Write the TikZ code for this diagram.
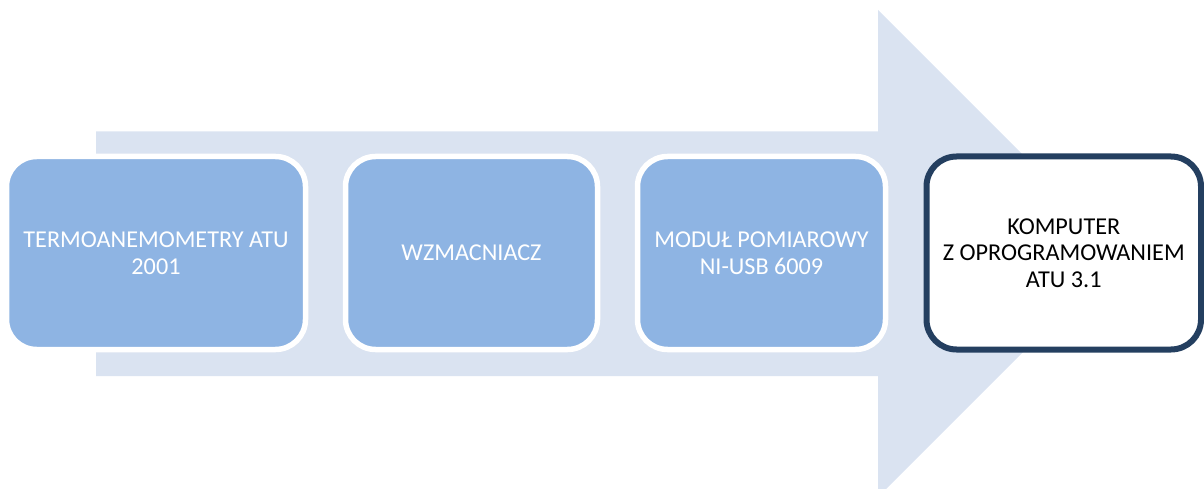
\documentclass[tikz,border=0pt]{standalone}
\usepackage{fontspec}
\setmainfont{Carlito}
\definecolor{shaftcol}{HTML}{DAE3F1}
\definecolor{boxfill}{HTML}{8EB4E3}
\definecolor{darkedge}{HTML}{243F60}
\tikzset{
  bluebox/.style={draw=white, line width=5.5pt, fill=boxfill, rounded corners=30pt,
    align=center, text=white, font=\fontsize{24.2}{26.5}\selectfont, inner sep=0pt,
    minimum height=193pt},
  finalbox/.style={draw=darkedge, line width=6pt, fill=white, rounded corners=30pt,
    align=center, text=black, font=\fontsize{24.2}{26.5}\selectfont, inner sep=0pt,
    minimum height=193pt}
}
\begin{document}
\begin{tikzpicture}[x=1pt,y=-1pt]
\useasboundingbox (0,0) rectangle (1204,489);
\clip (0,0) rectangle (1204,489);
% big arrow
\fill[shaftcol] (96,131.5) -- (878,131.5) -- (878,10) -- (1121.5,253.5) -- (878,497)
  -- (878,376) -- (96,376) -- cycle;
\node[bluebox, minimum width=299pt] (a) at (156,253) {TERMOANEMOMETRY ATU\\2001};
\node[bluebox, minimum width=252pt] (b) at (471.5,253) {WZMACNIACZ};
\node[bluebox, minimum width=248pt] (c) at (761.5,253) {MODUŁ POMIAROWY\\NI-USB 6009};
\node[finalbox, minimum width=274.5pt] (d) at (1063.75,253) {KOMPUTER\\Z OPROGRAMOWANIEM\\ATU 3.1};
\end{tikzpicture}
\end{document}
